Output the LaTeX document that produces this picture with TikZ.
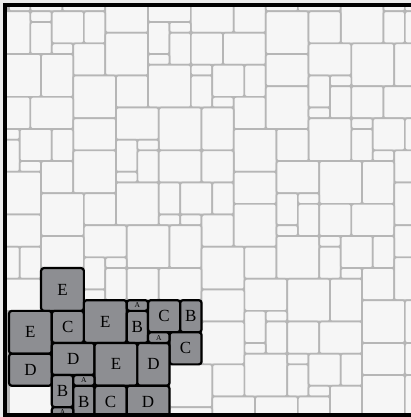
\documentclass[tikz,border=0pt]{standalone}
\usepackage{fontspec}
\setmainfont{Liberation Serif}
\usepackage{tikz}
\definecolor{paper}{RGB}{236,236,236}
\definecolor{tilefill}{RGB}{246,246,246}
\definecolor{tileline}{RGB}{182,182,182}
\definecolor{blockfill}{RGB}{141,142,146}
\tikzstyle{tile} = [fill=tilefill, draw=tileline, line width=1.7pt, rounded corners=2.2pt]
\tikzstyle{block} = [fill=blockfill, draw=black, line width=2.2pt, rounded corners=2.8pt]
\tikzstyle{lbl} = [inner sep=0pt, font=\fontsize{17}{17}\selectfont]
\tikzstyle{lblsmall} = [inner sep=0pt, font=\fontsize{7.5}{7.5}\selectfont]

\begin{document}
\begin{tikzpicture}[x=10.7pt, y=-10.7pt]
  % page
  \useasboundingbox (-0.841,-1.056) rectangle (37.57,37.92);
  \fill[paper] (-0.841,-1.056) rectangle (37.57,37.92);

  \begin{scope}
    \clip (-0.19,-0.4) rectangle (37.57,37.55);
    \fill[tileline] (-0.19,-0.4) rectangle (37.57,37.55);

    % background tiles: column/row/width/height
    \foreach \c/\r/\w/\h in {
      0/-1/2/1, 2/-1/3/1, 5/-1/4/1, 9/-2/4/4, 13/-1/4/2, 17/-1/4/3,
      21/-1/3/3, 24/-1/3/1, 27/-1/4/1, 31/-1/4/4, 35/-1/2/1, 37/-1/2/1,
      -1/0/3/4, 2/0/2/1, 2/1/2/3, 4/0/3/3, 7/0/2/3, 4/3/2/1, 6/3/3/3,
      -1/4/4/4, 3/4/3/4, 9/2/4/4, 13/1/2/3, 15/1/2/1, 15/2/2/3, 13/4/2/1,
      13/5/4/4, 6/6/4/4, 10/6/3/3, -1/8/3/3, 2/8/4/3,
      17/2/3/3, 20/2/4/3, 17/5/2/1, 17/6/2/3, 19/5/3/3, 22/5/2/3,
      19/8/2/1, 21/8/3/3, 24/0/4/4, 28/0/3/3, 35/0/2/3, 37/0/2/3,
      24/4/4/3, 24/7/4/4, 28/3/4/3, 32/3/4/4, 36/3/2/4, 28/6/2/3,
      30/6/2/1, 30/7/2/3, 28/9/2/1, 32/7/3/3, 35/7/3/3,
      28/10/4/4, 32/10/2/1, 32/11/2/3, 34/10/3/3, 37/10/2/3, 34/13/2/1,
      36/13/3/3,
      6/10/4/3, 10/9/4/3, 14/9/4/4, 18/9/3/4, 21/11/4/4, 25/11/3/3,
      -1/11/2/1, -1/12/2/3, 1/11/3/3, 4/11/2/3, 1/14/2/1, 3/14/3/3,
      10/12/2/3, 12/12/2/1, 12/13/2/3, 14/13/4/3, 18/13/3/3, 6/13/4/4,
      10/15/2/1, 10/16/4/4, 14/16/2/3, 16/16/3/3, 19/16/2/3, 21/15/4/3,
      -1/15/4/4, 3/17/4/4, 7/17/3/3, -1/19/4/3, 14/19/2/1, 16/19/2/1,
      18/19/3/3, 21/18/4/4, 7/20/4/3, 11/20/4/4, 15/20/3/4, 3/21/4/3,
      -1/22/2/3, 1/22/2/3, 18/22/4/4, 22/22/3/3,
      7/23/2/3, 7/26/2/1, 9/23/2/1, 9/24/2/3, 11/24/3/3, 14/24/4/3,
      -1/25/4/3, 0/35/4/3,
      25/14/4/3, 29/14/4/4, 33/14/3/4, 36/16/3/4, 25/17/2/3, 27/17/2/1,
      27/18/2/3, 25/20/2/1, 29/18/3/3, 32/18/4/3, 36/20/3/3, 25/21/4/4,
      29/21/2/1, 29/22/2/3, 31/21/3/3, 34/21/2/3, 31/24/2/1, 33/24/3/3,
      36/23/3/4,
      22/25/4/3, 26/25/4/4, 30/25/3/4, 18/26/4/3, 22/28/2/3, 24/28/2/1,
      24/29/2/3, 22/31/2/1, 26/29/3/3, 29/29/4/3, 33/27/4/4, 37/27/2/4,
      33/31/4/3, 37/31/2/3, 18/29/4/4, 22/32/4/4, 26/32/2/1, 26/33/2/3,
      28/32/3/3, 31/32/2/3, 28/35/2/1, 30/35/3/3, 33/34/4/4, 37/34/2/4,
      19/33/3/3, 15/33/4/4, 19/36/4/3, 23/36/4/3, 27/36/3/3, 15/37/4/2}
      \draw[tile] (\c,\r) rectangle ++(\w,\h);

    % lettered blocks
    \foreach \nm/\c/\r/\w/\h/\t in {
      eA/3/24/4/4/E, eB/0/28/4/4/E, cA/4/28/3/3/C, eC/7/27/4/4/E,
      bA/11/28/2/3/B, cB/13/27/3/3/C, bB/16/27/2/3/B, cC/15/30/3/3/C,
      dA/0/32/4/3/D, dB/4/31/4/3/D, eD/8/31/4/4/E, dC/12/31/3/4/D,
      bC/4/34/2/3/B, bD/6/35/2/3/B, cD/8/35/3/3/C, dD/11/35/4/3/D}
    {
      \draw[block] (\c,\r) rectangle ++(\w,\h);
      \node[lbl] (\nm) at (\c+\w/2,\r+\h/2) {\t};
    }
    \foreach \nm/\c/\r in {aA/11/27, aB/13/30, aC/6/34, aD/4/37}
    {
      \draw[block] (\c,\r) rectangle ++(2,1);
      \node[lblsmall] (\nm) at (\c+1,\r+0.5) {A};
    }
  \end{scope}

  % frame
  \draw[line width=4.3pt] (38.5,-0.589) -- (-0.374,-0.589) -- (-0.374,37.75) -- (38.5,37.75);
\end{tikzpicture}
\end{document}
